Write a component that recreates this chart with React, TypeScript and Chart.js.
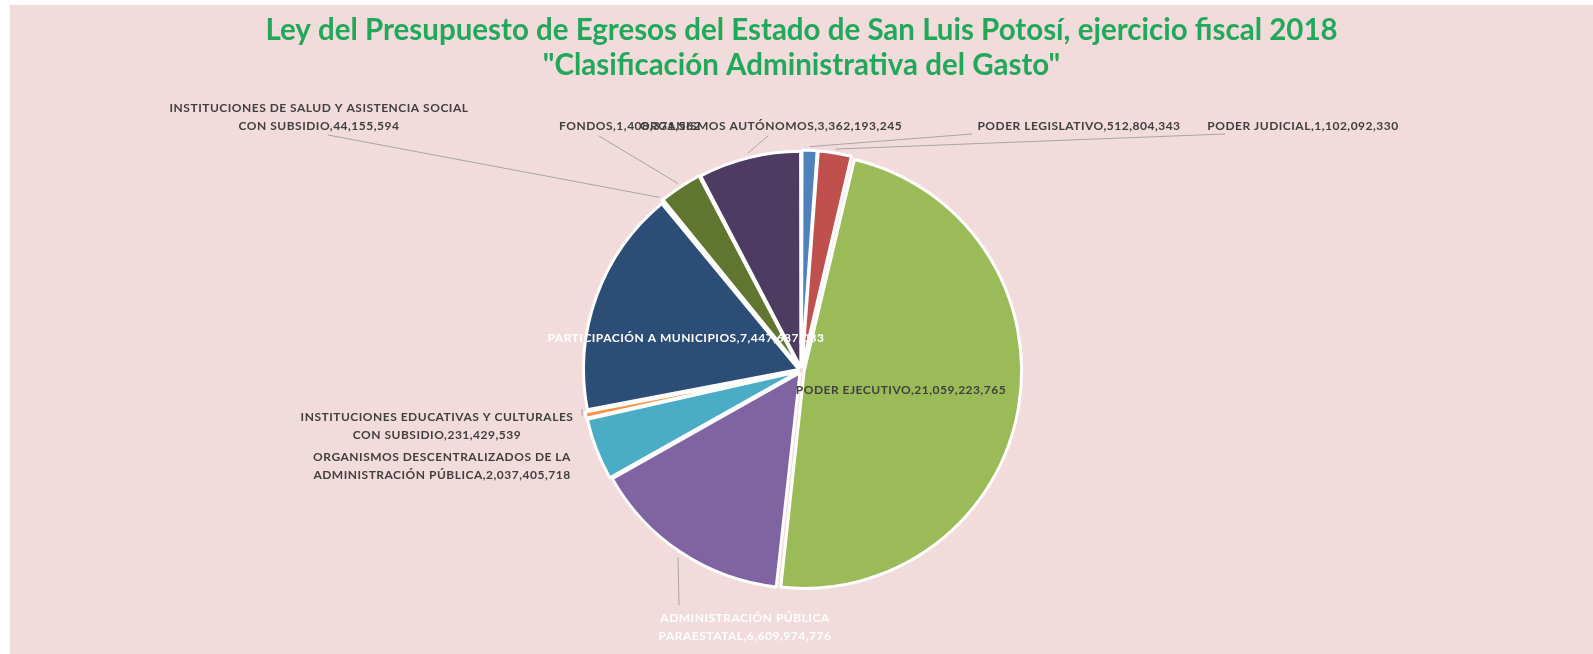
import React, { useEffect, useRef } from "react";
import { Chart, registerables } from "chart.js";

Chart.register(...registerables);

const titleLines = [
  "Ley del Presupuesto de Egresos del Estado de San Luis Potosí, ejercicio fiscal 2018",
  "\"Clasificación Administrativa del Gasto\"",
];

const categories = [
  "PODER LEGISLATIVO",
  "PODER JUDICIAL",
  "PODER EJECUTIVO",
  "ADMINISTRACIÓN PÚBLICA PARAESTATAL",
  "ORGANISMOS DESCENTRALIZADOS DE LA ADMINISTRACIÓN PÚBLICA",
  "INSTITUCIONES EDUCATIVAS Y CULTURALES CON SUBSIDIO",
  "PARTICIPACIÓN A MUNICIPIOS",
  "INSTITUCIONES DE SALUD Y ASISTENCIA SOCIAL CON SUBSIDIO",
  "FONDOS",
  "ORGANISMOS AUTÓNOMOS",
];

const amounts = [
  512804343,
  1102092330,
  21059223765,
  6609974776,
  2037405718,
  231429539,
  7447687033,
  44155594,
  1408371562,
  3362193245,
];

const sliceColors = [
  "#4F81BD",
  "#C0504D",
  "#9BBB59",
  "#8064A2",
  "#4BACC6",
  "#F79646",
  "#2C4D75",
  "#772C2A",
  "#5F7530",
  "#4D3B62",
];

// label placement (canvas px): text position, wrap width, colour, leader-line start
const labelLayout = [
  { x: 1069, y: 121, wrap: 400, color: "#404040", align: "center", anchor: [962, 129] },
  { x: 1293, y: 121, wrap: 400, color: "#404040", align: "center", anchor: [1215, 129] },
  { x: 891, y: 385, wrap: 400, color: "#404040", align: "center", anchor: null },
  { x: 735, y: 613, wrap: 210, color: "#FFFFFF", align: "center", anchor: [669, 600] },
  { x: 432, y: 452, wrap: 275, color: "#404040", align: "center", anchor: null },
  { x: 427, y: 412, wrap: 285, color: "#404040", align: "center", anchor: [572, 404] },
  { x: 676, y: 333, wrap: 500, color: "#FFFFFF", align: "center", anchor: null },
  { x: 309, y: 103, wrap: 320, color: "#404040", align: "center", anchor: [318, 130] },
  { x: 549, y: 121, wrap: 400, color: "#404040", align: "left", anchor: [589, 131] },
  { x: 761, y: 121, wrap: 400, color: "#404040", align: "center", anchor: [758, 131] },
];

function wrapText(ctx: CanvasRenderingContext2D, text: string, maxW: number): string[] {
  const words = text.split(" ");
  const lines: string[] = [];
  let cur = "";
  for (const w of words) {
    const t = cur ? cur + " " + w : w;
    if (cur && ctx.measureText(t).width > maxW) {
      lines.push(cur);
      cur = w;
    } else {
      cur = t;
    }
  }
  if (cur) lines.push(cur);
  return lines;
}

const bgPlugin = {
  id: "bgFill",
  beforeDraw(chart: any) {
    const ctx = chart.ctx;
    ctx.save();
    ctx.fillStyle = "#F2DCDB";
    ctx.fillRect(0, 0, chart.width, chart.height);
    ctx.restore();
  },
};

const labelPlugin = {
  id: "pieLabels",
  afterDatasetsDraw(chart: any) {
    const ctx: any = chart.ctx;
    const meta = chart.getDatasetMeta(0);
    ctx.save();
    ctx.font = "bold 12px Lato";
    ctx.letterSpacing = "0.5px";
    ctx.textBaseline = "middle";
    meta.data.forEach((arc: any, i: number) => {
      const L = labelLayout[i];
      const p = arc.getProps(["x", "y", "startAngle", "endAngle", "outerRadius"], true);
      const mid = (p.startAngle + p.endAngle) / 2;
      const off = arc.options.offset || 0;
      const r = p.outerRadius + off - 2;
      const ex = p.x + Math.cos(mid) * r;
      const ey = p.y + Math.sin(mid) * r;
      if (L.anchor) {
        ctx.strokeStyle = "#A6A6A6";
        ctx.lineWidth = 1;
        ctx.beginPath();
        ctx.moveTo(L.anchor[0], L.anchor[1]);
        ctx.lineTo(ex, ey);
        ctx.stroke();
      }
      const text = categories[i] + "," + amounts[i].toLocaleString("en-US");
      const lines = wrapText(ctx, text, L.wrap);
      ctx.fillStyle = L.color;
      ctx.textAlign = L.align;
      lines.forEach((ln, k) => {
        ctx.fillText(ln, L.x, L.y + k * 18);
      });
    });
    ctx.restore();
  },
};

export default function App() {
  const ref = useRef<HTMLCanvasElement | null>(null);
  useEffect(() => {
    if (!ref.current) return;
    const chart = new Chart(ref.current, {
      type: "pie",
      data: {
        labels: categories,
        datasets: [
          {
            data: amounts,
            backgroundColor: sliceColors,
            borderColor: "#FFFFFF",
            borderWidth: 3,
            offset: 11,
            hoverOffset: 0,
          },
        ],
      },
      options: {
        animation: false,
        responsive: true,
        maintainAspectRatio: false,
        radius: 215,
        layout: { padding: { left: 0, right: 0, top: 0, bottom: 0 } },
        plugins: {
          legend: { display: false },
          tooltip: { enabled: false },
          title: {
            display: true,
            text: titleLines,
            color: "#22A85A",
            font: { family: "Lato", size: 29.5, weight: "bold", lineHeight: 1.186 },
            padding: { top: 8, bottom: 4 },
          },
        },
      } as any,
      plugins: [bgPlugin, labelPlugin],
    });
    return () => chart.destroy();
  }, []);
  return (
    <div style={{ position: "fixed", left: 10, top: 5, width: 1583, height: 649 }}>
      <canvas ref={ref} />
    </div>
  );
}
